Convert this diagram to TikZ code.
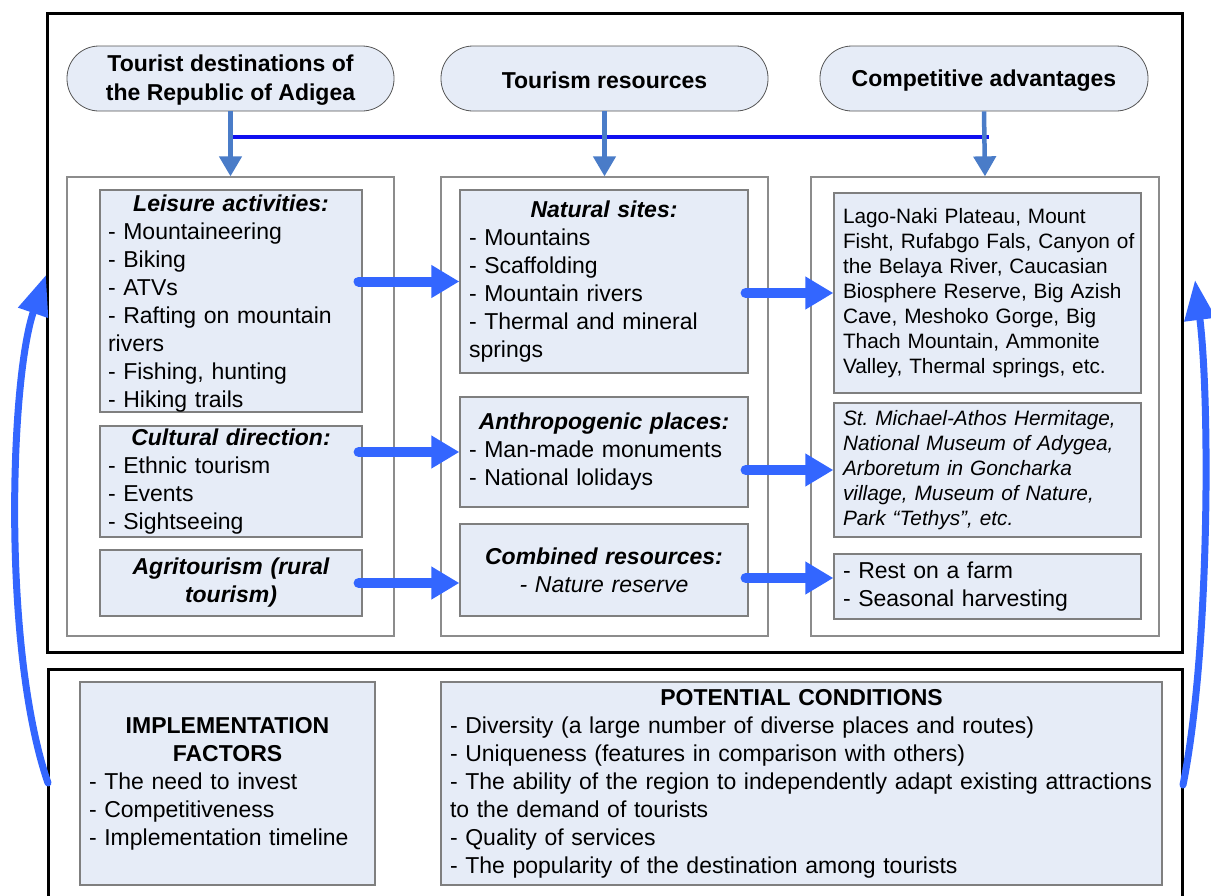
\documentclass[tikz,border=0pt]{standalone}
\usepackage{fontspec}
\setmainfont{Liberation Sans}
\usetikzlibrary{arrows.meta,calc}
\definecolor{boxfill}{HTML}{E6ECF7}
\definecolor{boxline}{HTML}{7F7F7F}
\definecolor{colline}{HTML}{8C8C8C}
\definecolor{pillline}{HTML}{555555}
\definecolor{steel}{HTML}{4A7CC8}
\definecolor{brightblue}{HTML}{3366FF}
\definecolor{pureblue}{HTML}{1010F0}
\newcommand\nb[1]{\mbox{#1}}
\newcommand\ctr[1]{\makebox[\hsize]{#1}}
\frenchspacing
\begin{document}
\begin{tikzpicture}[x=1pt,y=-1pt,
  outerbox/.style={draw=black, line width=3pt, inner sep=0pt},
  pill/.style={draw=pillline, line width=0.8pt, fill=boxfill, rounded corners=32pt,
    minimum width=327pt, minimum height=65pt, align=center, inner sep=0pt,
    font=\fontsize{23}{29}\selectfont\bfseries},
  colbox/.style={draw=colline, line width=1.3pt, fill=white, inner sep=0pt, minimum height=459pt},
  ibox/.style={draw=boxline, line width=1.2pt, fill=boxfill, inner sep=0pt, align=left,
    font=\fontsize{23}{28}\selectfont},
  sbox/.style={ibox, font=\fontsize{20.8}{25}\selectfont},
  vert/.style={draw=steel, line width=4.5pt, -{Triangle[length=20pt,width=22pt]}},
  bluebar/.style={draw=pureblue, line width=4pt},
  harrow/.style={draw=brightblue, line width=10pt, line cap=round, -{Triangle[length=28pt,width=31pt]}},
  bigarrow/.style={draw=brightblue, line width=7pt, line cap=round, -{Triangle[length=40pt,width=30pt]}}
]
\useasboundingbox (0,0) rectangle (1211,895);

% outer frames
\node[outerbox, minimum width=1135pt, minimum height=639pt] (topbox) at (614.5,332.5) {};
\node[outerbox, minimum width=1134pt, minimum height=241pt] (botbox) at (615,789.5) {};

% headers
\node[pill] (p1) at (230.5,78.5) {\rule{0pt}{20pt}Tourist destinations of\\the Republic of Adigea};
\node[pill] (p2) at (604.5,78.5) {\rule{0pt}{20pt}Tourism resources};
\node[pill, minimum width=328pt] (p3) at (984,78.5) {\rule{0pt}{20pt}Competitive advantages};

% columns
\node[colbox, minimum width=327pt] (c1) at (230.5,406.5) {};
\node[colbox, minimum width=327pt] (c2) at (604.5,406.5) {};
\node[colbox, minimum width=348pt] (c3) at (985,406.5) {};

% connectors from headers
\coordinate (j1) at (230.5,136.5);
\coordinate (j3) at (989,136.5);
\draw[bluebar] (j1) -- (j3);
\draw[vert] (p1.south) -- (c1.north);
\draw[vert] (p2.south) -- (c2.north);
\draw[vert] (p3.south) -- (c3.north);

% left column
\node[ibox, minimum width=262pt, minimum height=222pt, text width=246pt] (leis) at (231,301)
 {\ctr{\rule{0pt}{21pt}\bfseries\itshape Leisure activities:}\\- Mountaineering\\- Biking\\- ATVs\\\nb{- Rafting on mountain}\\rivers\\- Fishing, hunting\\- Hiking trails};
\node[ibox, minimum width=262pt, minimum height=111pt, text width=246pt] (cult) at (231,481.5)
 {\ctr{\bfseries\itshape Cultural direction:}\\- Ethnic tourism\\- Events\\- Sightseeing};
\node[ibox, align=center, minimum width=262pt, minimum height=66pt, text width=246pt] (agri) at (231,583)
 {\bfseries\itshape Agritourism (rural\\tourism)};

% middle column
\node[ibox, minimum width=288pt, minimum height=183pt, text width=270pt] (nat) at (604,281.5)
 {\ctr{\bfseries\itshape Natural sites:}\\- Mountains\\- Scaffolding\\- Mountain rivers\\\nb{- Thermal and mineral}\\springs};
\node[ibox, minimum width=288pt, minimum height=110pt, text width=270pt] (anth) at (604,452)
 {\ctr{\bfseries\itshape Anthropogenic places:}\\- Man-made monuments\\- National lolidays};
\node[ibox, align=center, minimum width=288pt, minimum height=92pt, text width=270pt] (comb) at (604,570)
 {{\bfseries\itshape Combined resources:}\\{\itshape - Nature reserve}};

% right column
\node[sbox, minimum width=307pt, minimum height=200pt, text width=289pt] (lago) at (987.5,293)
 {\nb{Lago-Naki Plateau, Mount}\\\nb{Fisht, Rufabgo Fals, Canyon of}\\\nb{the Belaya River, Caucasian}\\\nb{Biosphere Reserve, Big Azish}\\\nb{Cave, Meshoko Gorge, Big}\\\nb{Thach Mountain, Ammonite}\\\nb{Valley, Thermal springs, etc.}};
\node[sbox, font=\fontsize{20.8}{25}\selectfont\itshape, minimum width=307pt, minimum height=134pt, text width=289pt] (stm) at (987.5,470)
 {\nb{St. Michael-Athos Hermitage,}\\\nb{National Museum of Adygea,}\\\nb{Arboretum in Goncharka}\\\nb{village, Museum of Nature,}\\\nb{Park “Tethys”, etc.}};
\node[ibox, minimum width=307pt, minimum height=65pt, text width=289pt] (rest) at (987.5,586.5)
 {- Rest on a farm\\- Seasonal harvesting};

% bottom boxes
\node[ibox, minimum width=295pt, minimum height=203pt, text width=277pt] (impl) at (227.5,783.5)
 {\ctr{\bfseries IMPLEMENTATION}\\\ctr{\bfseries FACTORS}\\- The need to invest\\- Competitiveness\\- Implementation timeline};
\node[ibox, minimum width=721pt, minimum height=203pt, text width=703pt] (pot) at (801.5,783.5)
 {\ctr{\bfseries POTENTIAL CONDITIONS}\\\nb{- Diversity (a large number of diverse places and routes)}\\\nb{- Uniqueness (features in comparison with others)}\\\nb{- The ability of the region to independently adapt existing attractions}\\to the demand of tourists\\- Quality of services\\\nb{- The popularity of the destination among tourists}};

% horizontal arrows
\draw[harrow] ($(leis.east|-nat.west)+(-4,0)$) -- (nat.west);
\draw[harrow] ($(cult.east|-anth.west)+(-4,0)$) -- (anth.west);
\draw[harrow] ($(agri.east)+(-4,0)$) -- (comb.west|-agri.east);
\draw[harrow] ($(nat.east|-lago.west)+(-3,0)$) -- (lago.west);
\draw[harrow] ($(anth.east|-stm.west)+(-3,0)$) -- (stm.west);
\draw[harrow] ($(comb.east)+(-3,8)$) -- ($(rest.west)+(0,-8.5)$);

% big feedback arrows
\coordinate (lb) at (48,783);
\coordinate (lt) at (46,275);
\coordinate (rb) at (1183,785);
\coordinate (rt) at (1195,280);
\draw[bigarrow] (lb) .. controls (2,650) and (10,380) .. (lt);
\draw[bigarrow] (rb) .. controls (1210,650) and (1210,400) .. (rt);
\end{tikzpicture}
\end{document}
